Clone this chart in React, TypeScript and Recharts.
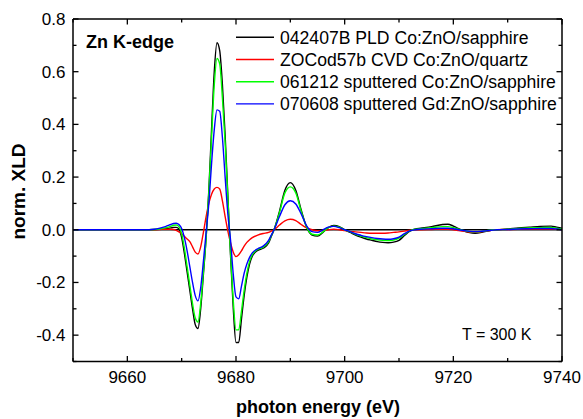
import React from 'react';
import { LineChart, Line, XAxis, YAxis, Legend, ReferenceLine, Customized } from 'recharts';

const FONT = '"Liberation Sans", Arial, Helvetica, sans-serif';

const energy = [
  9650, 9655, 9660, 9663, 9665, 9666, 9667, 9668, 9668.5, 9669,
  9669.5, 9670, 9670.5, 9671, 9671.5, 9672, 9672.5, 9673, 9673.5, 9674,
  9674.5, 9675, 9675.5, 9676, 9676.5, 9677, 9677.5, 9678, 9678.5, 9679,
  9679.5, 9680, 9680.5, 9681, 9681.5, 9682, 9682.5, 9683, 9684, 9685,
  9686, 9686.5, 9687, 9688, 9689, 9690, 9691, 9692, 9693, 9694,
  9695, 9696, 9697, 9698, 9699, 9700, 9701, 9702, 9703, 9704,
  9705, 9706, 9707, 9708, 9709, 9710, 9711, 9712, 9713, 9714,
  9716, 9718, 9719, 9720, 9721, 9722, 9723, 9724, 9725, 9726,
  9727, 9728, 9730, 9732, 9734, 9736, 9738, 9739, 9740,
];

// 042407B PLD Co:ZnO/sapphire (black)
const pld = [
  0, 0, 0, 0, 0.001, 0.002, 0.004, 0.007, 0.009, 0.009,
  0.003, -0.03, -0.09, -0.16, -0.23, -0.3, -0.36, -0.375, -0.3, -0.17,
  -0.03, 0.15, 0.38, 0.6, 0.71, 0.68, 0.55, 0.36, 0.13, -0.1,
  -0.3, -0.428, -0.428, -0.34, -0.25, -0.18, -0.13, -0.1, -0.078, -0.07,
  -0.05, -0.025, 0.0, 0.07, 0.15, 0.179, 0.15, 0.075, 0.01, -0.02,
  -0.024, -0.01, 0.008, 0.016, 0.012, 0.0, -0.01, -0.02, -0.028, -0.035,
  -0.04, -0.045, -0.048, -0.049, -0.047, -0.04, -0.022, -0.005, 0.003, 0.006,
  0.012, 0.02, 0.021, 0.014, 0.004, -0.005, -0.011, -0.013, -0.011, -0.006,
  -0.002, 0.0, 0.003, 0.007, 0.01, 0.013, 0.014, 0.01, 0.006,
];

// ZOCod57b CVD Co:ZnO/quartz (red)
const cvd = [
  0, 0, 0, 0, 0, 0.001, 0.002, 0.002, 0.001, -0.002,
  -0.008, -0.015, -0.025, -0.035, -0.045, -0.065, -0.085, -0.092, -0.065, -0.01,
  0.05, 0.1, 0.135, 0.155, 0.161, 0.155, 0.11, 0.05, -0.005, -0.05,
  -0.085, -0.102, -0.095, -0.08, -0.062, -0.048, -0.038, -0.03, -0.02, -0.014,
  -0.01, -0.005, 0.0, 0.018, 0.034, 0.04, 0.035, 0.02, 0.007, 0.0,
  -0.004, -0.003, 0.0, 0.002, 0.0, -0.003, -0.006, -0.008, -0.01, -0.012,
  -0.013, -0.013, -0.013, -0.012, -0.01, -0.008, -0.005, -0.002, 0.0, 0.0,
  0.001, 0.002, 0.002, 0.0, -0.003, -0.006, -0.009, -0.01, -0.008, -0.005,
  -0.002, 0.0, 0.001, 0.002, 0.003, 0.003, 0.003, 0.002, 0.001,
];

// 061212 sputtered Co:ZnO/sapphire (green)
const sputCo = [
  0, 0, 0, 0, 0.001, 0.003, 0.007, 0.013, 0.017, 0.018,
  0.012, -0.015, -0.07, -0.14, -0.21, -0.28, -0.335, -0.35, -0.28, -0.16,
  -0.03, 0.14, 0.35, 0.55, 0.65, 0.63, 0.5, 0.33, 0.12, -0.09,
  -0.27, -0.38, -0.38, -0.31, -0.23, -0.165, -0.12, -0.095, -0.075, -0.066,
  -0.045, -0.022, 0.0, 0.065, 0.14, 0.163, 0.14, 0.07, 0.01, -0.017,
  -0.02, -0.008, 0.008, 0.014, 0.01, 0.0, -0.008, -0.017, -0.024, -0.03,
  -0.035, -0.038, -0.04, -0.041, -0.039, -0.032, -0.018, -0.004, 0.002, 0.004,
  0.008, 0.012, 0.012, 0.008, 0.002, -0.003, -0.007, -0.008, -0.007, -0.004,
  -0.001, 0.0, 0.002, 0.005, 0.007, 0.008, 0.009, 0.006, 0.003,
];

// 070608 sputtered Gd:ZnO/sapphire (blue)
const sputGd = [
  0, 0, 0, 0, 0.002, 0.006, 0.012, 0.02, 0.024, 0.025,
  0.02, 0.005, -0.03, -0.08, -0.14, -0.2, -0.25, -0.27, -0.22, -0.12,
  -0.01, 0.1, 0.25, 0.38, 0.455, 0.45, 0.35, 0.2, 0.06, -0.04,
  -0.17, -0.255, -0.262, -0.215, -0.165, -0.13, -0.105, -0.088, -0.072, -0.062,
  -0.04, -0.02, 0.0, 0.05, 0.095, 0.11, 0.098, 0.06, 0.015, -0.007,
  -0.01, 0.0, 0.01, 0.013, 0.008, 0.0, -0.007, -0.015, -0.021, -0.026,
  -0.03, -0.033, -0.035, -0.036, -0.034, -0.028, -0.015, -0.004, 0.0, 0.002,
  0.004, 0.006, 0.006, 0.004, 0.0, -0.003, -0.006, -0.007, -0.006, -0.004,
  -0.002, 0.0, 0.001, 0.003, 0.004, 0.005, 0.005, 0.003, 0.0,
];

const seriesKeys = ['pld', 'cvd', 'sputCo', 'sputGd'];
const seriesNames = [
  '042407B PLD Co:ZnO/sapphire',
  'ZOCod57b CVD Co:ZnO/quartz',
  '061212 sputtered Co:ZnO/sapphire',
  '070608 sputtered Gd:ZnO/sapphire',
];
const seriesColors = ['#000000', '#ff0000', '#00ff00', '#0000ff'];

const xTicks = [9650, 9660, 9670, 9680, 9690, 9700, 9710, 9720, 9730, 9740];
const xLabels = [9660, 9680, 9700, 9720, 9740];
const yTicks = [-0.5, -0.4, -0.3, -0.2, -0.1, 0, 0.1, 0.2, 0.3, 0.4, 0.5, 0.6, 0.7, 0.8];
const yLabels = [-0.4, -0.2, 0, 0.2, 0.4, 0.6, 0.8];

const data = energy.map((e, i) => ({
  e,
  pld: pld[i],
  cvd: cvd[i],
  sputCo: sputCo[i],
  sputGd: sputGd[i],
}));

const inList = (v: number, arr: number[]) => arr.some((a) => Math.abs(a - v) < 1e-6);
const TICK_W = 1.3;

const BottomTick = (props: any) => {
  const { x, y, payload } = props;
  const major = inList(payload.value, xLabels);
  return (
    <g>
      <line x1={x} x2={x} y1={y} y2={y - (major ? 5.5 : 3.5)} stroke="#000" strokeWidth={TICK_W} />
      {major && (
        <text x={x} y={y + 21.5} textAnchor="middle" fontSize={17} fontFamily={FONT} fill="#000">
          {payload.value}
        </text>
      )}
    </g>
  );
};

const TopTick = (props: any) => {
  const { x, y, payload } = props;
  const major = inList(payload.value, xLabels);
  return <line x1={x} x2={x} y1={y} y2={y + (major ? 5.5 : 3.5)} stroke="#000" strokeWidth={TICK_W} />;
};

const fmtY = (v: number) => (Math.abs(v) < 1e-9 ? '0.0' : v.toFixed(1));

const LeftTick = (props: any) => {
  const { x, y, payload } = props;
  const major = inList(payload.value, yLabels);
  return (
    <g>
      <line x1={x} x2={x + (major ? 5.5 : 3.5)} y1={y} y2={y} stroke="#000" strokeWidth={TICK_W} />
      {major && (
        <text x={x - 7.5} y={y + 6} textAnchor="end" fontSize={17} fontFamily={FONT} fill="#000">
          {fmtY(payload.value)}
        </text>
      )}
    </g>
  );
};

const RightTick = (props: any) => {
  const { x, y, payload } = props;
  const major = inList(payload.value, yLabels);
  return <line x1={x} x2={x - (major ? 5.5 : 3.5)} y1={y} y2={y} stroke="#000" strokeWidth={TICK_W} />;
};

const LegendBox = () => (
  <svg width={330} height={100} style={{ display: 'block', overflow: 'visible' }}>
    {seriesNames.map((n, i) => {
      const y = 11.3 + i * 22.2;
      return (
        <g key={n}>
          <line x1={0} x2={38} y1={y} y2={y} stroke={seriesColors[i]} strokeWidth={1.4} />
          <text x={44} y={y + 6.5} fontSize={17.6} fontFamily={FONT} fill="#000">
            {n}
          </text>
        </g>
      );
    })}
  </svg>
);

const Annotations = () => (
  <g fontFamily={FONT} fill="#000">
    <text x={86} y={48} fontSize={18} fontWeight="bold">Zn K-edge</text>
    <text x={462} y={340} fontSize={16}>T = 300 K</text>
    <text x={318} y={413} fontSize={18} fontWeight="bold" textAnchor="middle">photon energy (eV)</text>
    <text transform="translate(25,191.5) rotate(-90)" fontSize={19} fontWeight="bold" textAnchor="middle">
      norm. XLD
    </text>
  </g>
);

export default function App() {
  return (
    <div style={{ position: 'absolute', left: 0, top: 0, background: '#fff' }}>
      <LineChart width={583} height={419} data={data} margin={{ top: 0, right: 0, bottom: 0, left: 0 }}>
        <XAxis
          dataKey="e"
          type="number"
          domain={[9650, 9740]}
          allowDataOverflow
          ticks={xTicks}
          interval={0}
          height={57.5}
          tickSize={0}
          tickMargin={0}
          tickLine={false}
          axisLine={{ stroke: '#000', strokeWidth: 1.5 }}
          tick={<BottomTick />}
        />
        <XAxis
          xAxisId="top"
          orientation="top"
          dataKey="e"
          type="number"
          domain={[9650, 9740]}
          allowDataOverflow
          ticks={xTicks}
          interval={0}
          height={19}
          tickSize={0}
          tickMargin={0}
          tickLine={false}
          axisLine={{ stroke: '#000', strokeWidth: 1.5 }}
          tick={<TopTick />}
        />
        <YAxis
          type="number"
          domain={[-0.5, 0.8]}
          allowDataOverflow
          ticks={yTicks}
          interval={0}
          width={73}
          tickSize={0}
          tickMargin={0}
          tickLine={false}
          axisLine={{ stroke: '#000', strokeWidth: 1.5 }}
          tick={<LeftTick />}
        />
        <YAxis
          yAxisId="right"
          orientation="right"
          type="number"
          domain={[-0.5, 0.8]}
          allowDataOverflow
          ticks={yTicks}
          interval={0}
          width={21}
          tickSize={0}
          tickMargin={0}
          tickLine={false}
          axisLine={{ stroke: '#000', strokeWidth: 1.5 }}
          tick={<RightTick />}
        />
        <ReferenceLine y={0} stroke="#000" strokeWidth={1.5} />
        {seriesKeys.map((k, i) => (
          <Line
            key={k}
            dataKey={k}
            name={seriesNames[i]}
            type="monotone"
            stroke={seriesColors[i]}
            strokeWidth={1.4}
            dot={false}
            activeDot={false}
            isAnimationActive={false}
          />
        ))}
        <Legend
          layout="vertical"
          align="center"
          verticalAlign="middle"
          content={LegendBox}
          wrapperStyle={{ position: 'absolute', left: 236, top: 26, width: 330, height: 100 }}
        />
        <Customized component={Annotations} />
      </LineChart>
    </div>
  );
}
